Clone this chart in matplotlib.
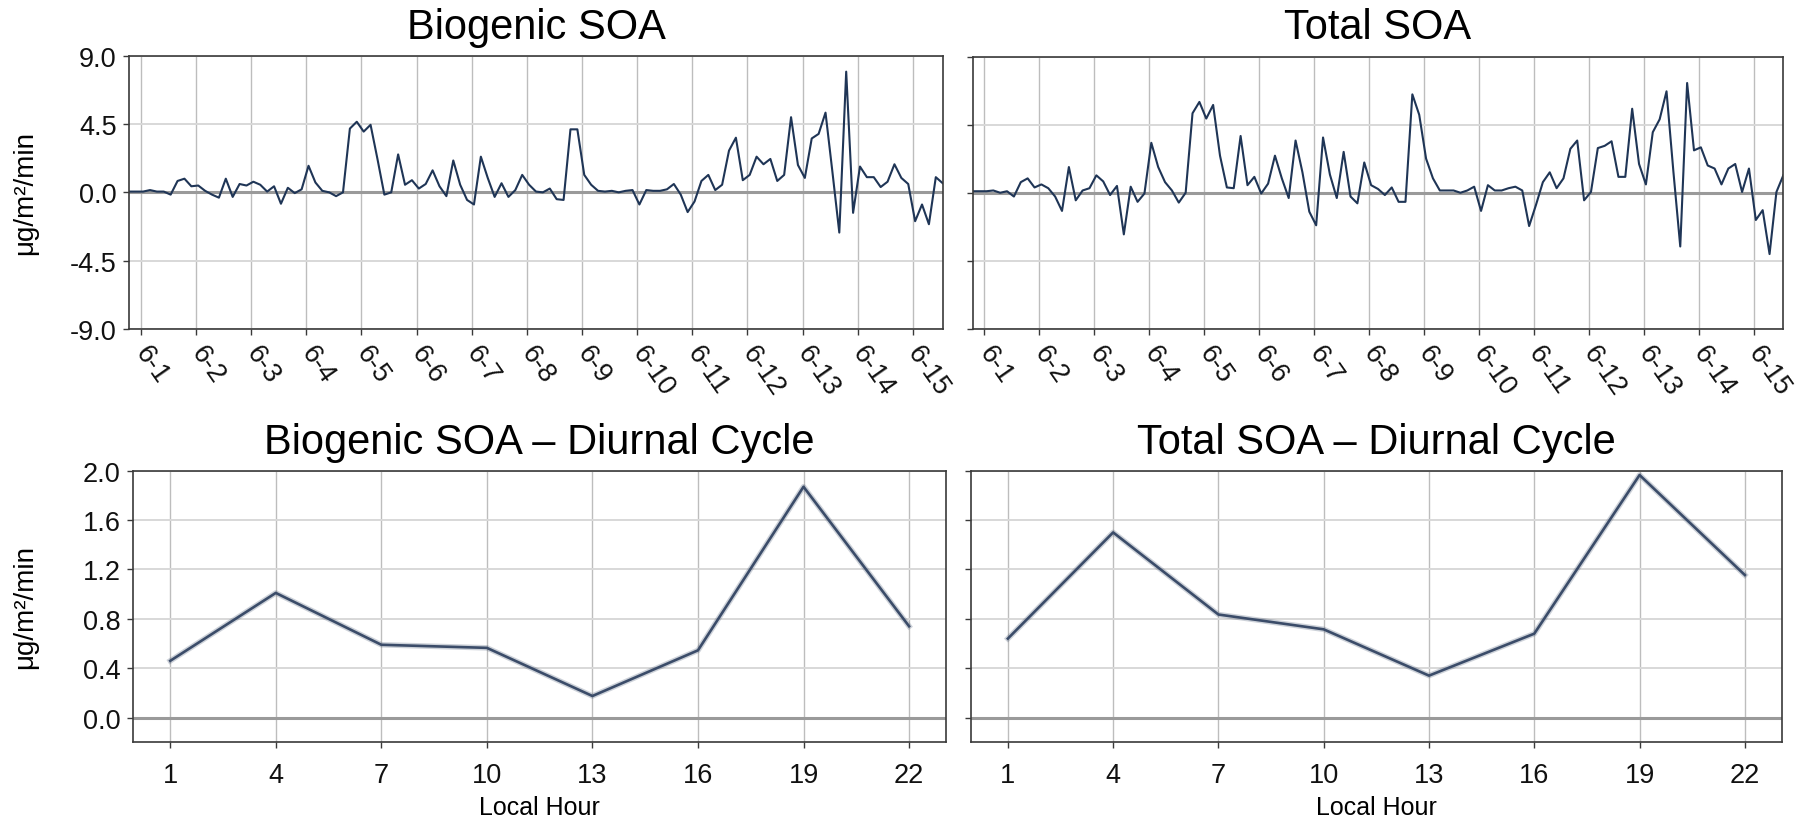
import matplotlib
matplotlib.use("Agg")
import matplotlib.pyplot as plt
from matplotlib.ticker import FormatStrFormatter
import pandas as pd

plt.rcParams['font.family'] = ['Liberation Sans', 'DejaVu Sans']
plt.rcParams['axes.unicode_minus'] = False

# 3-hourly SOA fluxes (local time), first value at 5-31 19:00
start = "2021-05-31 19:00"
biogenic = [
    0.05, 0.05, 0.05, 0.15, 0.05, 0.05, -0.15, 0.75, 0.9, 0.4,
    0.45, 0.1, -0.15, -0.35, 0.9, -0.3, 0.55, 0.45, 0.7, 0.5,
    0.05, 0.4, -0.75, 0.3, -0.05, 0.2, 1.75, 0.65, 0.1, 0.0,
    -0.25, 0.0, 4.2, 4.65, 4.0, 4.45, 2.2, -0.15, 0.0, 2.5,
    0.5, 0.8, 0.25, 0.55, 1.45, 0.4, -0.25, 2.1, 0.5, -0.5,
    -0.8, 2.35, 0.95, -0.3, 0.6, -0.3, 0.15, 1.15, 0.5, 0.05,
    0.0, 0.25, -0.45, -0.5, 4.15, 4.15, 1.15, 0.5, 0.1, 0.05,
    0.1, 0.0, 0.1, 0.15, -0.8, 0.15, 0.1, 0.1, 0.2, 0.55,
    -0.15, -1.3, -0.6, 0.75, 1.15, 0.15, 0.5, 2.75, 3.6, 0.8,
    1.15, 2.35, 1.85, 2.2, 0.75, 1.15, 4.95, 1.8, 0.95, 3.55,
    3.85, 5.25, 1.35, -2.65, 7.95, -1.35, 1.7, 1.0, 1.0, 0.35,
    0.7, 1.85, 0.95, 0.55, -1.9, -0.8, -2.1, 1.0, 0.6,
]
total = [
    0.1, 0.1, 0.1, 0.15, 0.0, 0.1, -0.25, 0.7, 0.95, 0.35,
    0.55, 0.3, -0.25, -1.2, 1.7, -0.5, 0.15, 0.3, 1.15, 0.75,
    -0.15, 0.45, -2.75, 0.4, -0.6, -0.05, 3.3, 1.7, 0.7, 0.15,
    -0.65, 0.0, 5.25, 6.0, 4.9, 5.8, 2.45, 0.35, 0.3, 3.75,
    0.5, 1.05, -0.05, 0.6, 2.45, 0.95, -0.35, 3.45, 1.35, -1.25,
    -2.15, 3.65, 1.2, -0.35, 2.7, -0.25, -0.7, 2.0, 0.5, 0.25,
    -0.15, 0.35, -0.6, -0.6, 6.5, 5.15, 2.25, 0.95, 0.15, 0.15,
    0.15, 0.0, 0.15, 0.4, -1.2, 0.5, 0.15, 0.15, 0.3, 0.4,
    0.15, -2.2, -0.8, 0.7, 1.35, 0.3, 0.95, 2.9, 3.45, -0.5,
    0.05, 2.95, 3.1, 3.4, 1.05, 1.05, 5.55, 1.9, 0.55, 4.0,
    4.85, 6.7, 1.4, -3.55, 7.25, 2.8, 3.0, 1.8, 1.6, 0.55,
    1.6, 1.9, 0.05, 1.6, -1.8, -1.15, -4.05, 0.05, 1.15,
]
times = pd.date_range(start, periods=len(biogenic), freq="3h")
day_ticks = pd.date_range("2021-06-01", "2021-06-15", freq="D")
day_labels = [f"{d.month}-{d.day}" for d in day_ticks]

# mean diurnal cycle
hours = [1, 4, 7, 10, 13, 16, 19, 22]
biogenic_diurnal = [0.46, 1.01, 0.59, 0.565, 0.175, 0.545, 1.87, 0.74]
total_diurnal = [0.64, 1.50, 0.835, 0.715, 0.34, 0.68, 1.965, 1.155]

ts_ticks = [-9.0, -4.5, 0.0, 4.5, 9.0]
dc_ticks = [0.0, 0.4, 0.8, 1.2, 1.6, 2.0]
unit = "μg/m²/min"

LINE = '#1f3556'
DIURNAL = '#3b4c69'
TICKCOL = '#3a3a3a'

fig = plt.figure(figsize=(18, 8.2), dpi=100)
W, H = 1800, 820


def rect(l, r, t, b):
    return [l / W, 1 - b / H, (r - l) / W, (b - t) / H]


def style(ax, yticks, ylim, show_labels):
    ax.set_ylim(*ylim)
    ax.set_yticks(yticks)
    ax.yaxis.set_major_formatter(FormatStrFormatter('%.1f'))
    ax.set_axisbelow(True)
    ax.grid(axis='y', color='#d8d8d8', lw=1.4)
    ax.grid(axis='x', color='#bdbdbd', lw=1.0)
    ax.axhline(0, color='#9a9a9a', lw=2.2, zorder=1.5)
    for s in ax.spines.values():
        s.set_color(TICKCOL)
        s.set_linewidth(1.2)
    ax.tick_params(direction='out', length=4, width=1.0, color=TICKCOL,
                   labelsize=19.5, pad=5, labelcolor='#111111')
    if not show_labels:
        ax.tick_params(labelleft=False)


ax_tl = fig.add_axes(rect(129.3, 942.7, 56.7, 330))
ax_tr = fig.add_axes(rect(972.7, 1783.3, 57.5, 330))
ax_bl = fig.add_axes(rect(133.3, 946, 471.7, 743.3))
ax_br = fig.add_axes(rect(971, 1781.7, 471.7, 743.3))

for ax, series, title, left in [(ax_tl, biogenic, "Biogenic SOA", True),
                                (ax_tr, total, "Total SOA", False)]:
    style(ax, ts_ticks, (-9, 9), left)
    ax.plot(times, series, color=LINE, lw=1.5, zorder=2)
    ax.set_xlim(times[0], times[-1])
    ax.set_xticks(day_ticks)
    ax.set_xticklabels(day_labels, rotation=-55, ha='left', va='center',
                       rotation_mode='anchor', fontsize=19.5)
    ax.tick_params(axis='x', pad=10)
    ax.set_title(title, fontsize=30, pad=13)

for ax, series, title, left in [(ax_bl, biogenic_diurnal, "Biogenic SOA – Diurnal Cycle", True),
                                (ax_br, total_diurnal, "Total SOA – Diurnal Cycle", False)]:
    style(ax, dc_ticks, (-0.2, 2.0), left)
    ax.plot(hours, series, color=DIURNAL, lw=4, alpha=0.25, zorder=2)
    ax.plot(hours, series, color=DIURNAL, lw=1.9, zorder=2.1)
    ax.set_xlim(-0.05, 23.05)
    ax.set_xticks(hours)
    ax.tick_params(axis='x', pad=10)
    ax.set_xlabel("Local Hour", fontsize=18, labelpad=5)
    ax.set_title(title, fontsize=30, pad=13)

for ax in (ax_tl, ax_bl):
    ax.set_ylabel(unit, fontsize=20)
ax_tl.yaxis.set_label_coords(-0.112, 0.5)
ax_bl.yaxis.set_label_coords(-0.117, 0.5)

fig.savefig("out.png", dpi=100)
